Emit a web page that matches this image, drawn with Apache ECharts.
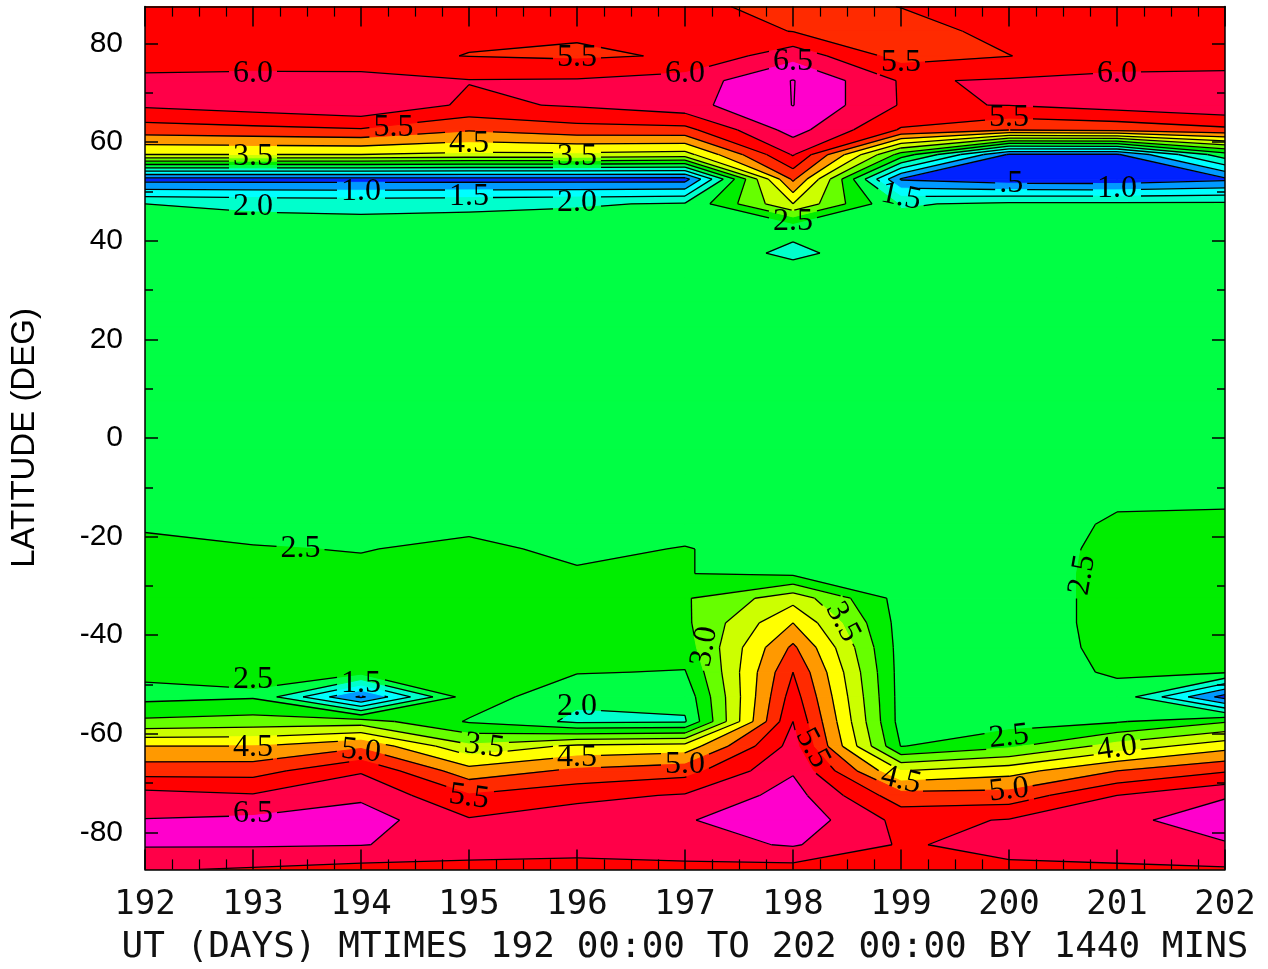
<!DOCTYPE html>
<html>
<head>
<meta charset="utf-8">
<script src="https://cdn.jsdelivr.net/npm/echarts@6/dist/echarts.min.js"></script>
<style>
  html, body { margin: 0; padding: 0; background: #fff; }
  #chart { width: 1268px; height: 969px; }
</style>
</head>
<body>
<div id="chart"></div>
<script>
// grid of the field: one column per day, one row per latitude (north to south)
const days = [192, 193, 194, 195, 196, 197, 198, 199, 200, 201, 202];
const lats = [87.5, 82.5, 77.5, 72.5, 67.5, 62.5, 57.5, 52.5, 47.5, 42.5,
  37.5, 32.5, 27.5, 22.5, 17.5, 12.5, 7.5, 2.5, -2.5, -7.5,
  -12.5, -17.5, -22.5, -27.5, -32.5, -37.5, -42.5, -47.5, -52.5, -57.5,
  -62.5, -67.5, -72.5, -77.5, -82.5, -87.5];

const valuesNorth = [
  [5.7, 5.7, 5.7, 5.7, 5.7, 5.65, 5.3, 5.51, 5.7, 5.7, 5.7],
  [5.75, 5.75, 5.7, 5.56, 5.57, 5.7, 5.49, 5.3, 5.65, 5.75, 5.75],
  [5.8, 5.8, 5.6, 5.49, 5.42, 5.55, 6.32, 5.3, 5.49, 5.8, 5.85],
  [6.09, 6.12, 6.23, 6.02, 6.04, 6.21, 7.02, 5.95, 6.05, 6.1, 6.1],
  [6.08, 6.25, 6.45, 5.9, 6.05, 6.32, 7.01, 5.96, 6.01, 6.22, 6.42],
  [5.25, 5.35, 5.45, 5.05, 5.3, 5.34, 6.7, 5.45, 5.03, 5.13, 5.38],
  [4.0, 4.0, 4.0, 3.9, 3.9, 3.8, 6.05, 2.8, 0.45, 0.45, 2.3],
  [0.3, 0.3, 0.3, 0.3, 0.3, 0.3, 5.1, 0.45, 0.18, 0.15, 0.4],
  [2.0, 1.9, 1.85, 1.9, 1.95, 2.05, 4.0, 1.95, 2.1, 2.1, 2.1],
  [2.2, 2.2, 2.2, 2.2, 2.25, 2.2, 2.12, 2.2, 2.2, 2.2, 2.2]
];
const valuesMid = [
  [2.2, 2.2, 2.25, 2.25, 2.25, 2.3, 1.9, 2.3, 2.25, 2.2, 2.2],
  [2.25, 2.25, 2.25, 2.25, 2.25, 2.25, 2.26, 2.25, 2.25, 2.25, 2.25],
  [2.25, 2.3, 2.25, 2.2, 2.25, 2.3, 2.3, 2.25, 2.2, 2.25, 2.25],
  [2.25, 2.25, 2.2, 2.2, 2.25, 2.25, 2.3, 2.25, 2.2, 2.2, 2.25],
  [2.2, 2.25, 2.2, 2.2, 2.2, 2.25, 2.25, 2.2, 2.2, 2.2, 2.2],
  [2.2, 2.2, 2.2, 2.2, 2.2, 2.2, 2.2, 2.2, 2.2, 2.2, 2.2],
  [2.2, 2.2, 2.2, 2.2, 2.2, 2.2, 2.2, 2.2, 2.2, 2.2, 2.2],
  [2.2, 2.2, 2.2, 2.2, 2.2, 2.2, 2.2, 2.2, 2.2, 2.2, 2.2],
  [2.25, 2.25, 2.2, 2.2, 2.2, 2.25, 2.25, 2.2, 2.2, 2.25, 2.25],
  [2.25, 2.25, 2.25, 2.3, 2.25, 2.25, 2.25, 2.25, 2.25, 2.3, 2.3]
];
const valuesSouth = [
  [2.3, 2.3, 2.3, 2.35, 2.3, 2.3, 2.3, 2.3, 2.3, 2.45, 2.45],
  [2.45, 2.35, 2.3, 2.4, 2.3, 2.35, 2.3, 2.3, 2.3, 2.55, 2.58],
  [2.6, 2.53, 2.48, 2.6, 2.4, 2.52, 2.3, 2.3, 2.3, 2.6, 2.6],
  [2.7, 2.65, 2.6, 2.65, 2.55, 2.51, 2.4, 2.3, 2.3, 2.62, 2.6],
  [2.7, 2.7, 2.65, 2.7, 2.7, 2.95, 3.8, 2.3, 2.3, 2.62, 2.6],
  [2.7, 2.7, 2.7, 2.75, 2.7, 2.9, 4.5, 2.3, 2.3, 2.62, 2.6],
  [2.7, 2.7, 2.75, 2.75, 2.65, 2.75, 5.1, 2.3, 2.3, 2.6, 2.6],
  [2.6, 2.6, 2.68, 2.7, 2.53, 2.47, 5.5, 2.3, 2.3, 2.55, 2.55],
  [2.35, 2.45, 0.4, 2.8, 2.1, 2.15, 5.75, 2.3, 2.3, 2.35, 0.3],
  [3.1, 3.2, 3.25, 2.45, 1.9, 1.95, 6.0, 2.3, 2.3, 2.45, 2.95],
  [4.5, 4.5, 4.9, 3.6, 4.1, 4.2, 6.2, 2.48, 2.9, 3.7, 4.3],
  [5.28, 5.3, 5.95, 4.7, 5.1, 5.3, 6.45, 4.0, 4.3, 5.0, 5.45],
  [6.2, 6.05, 6.4, 5.55, 5.85, 6.05, 6.7, 5.2, 5.2, 6.0, 6.45],
  [6.52, 6.6, 6.75, 6.05, 6.3, 6.46, 6.85, 5.85, 6.03, 6.35, 6.8],
  [6.55, 6.55, 6.52, 6.3, 6.3, 6.3, 6.55, 5.95, 6.15, 6.3, 6.45],
  [6.05, 5.95, 5.82, 5.82, 5.74, 5.85, 5.8, 5.7, 5.9, 5.9, 5.95]
];
const values = valuesNorth.concat(valuesMid, valuesSouth);

const levels = [0.5, 1.0, 1.5, 2.0, 2.5, 3.0, 3.5, 4.0, 4.5, 5.0, 5.5, 6.0, 6.5, 7.0];
const bandColors = ['#0022ff', '#0099ff', '#00ffff', '#00ffcc', '#00ff44', '#00ee00', '#66ff00',
  '#ccff00', '#ffff00', '#ff9900', '#ff2a00', '#ff0000', '#ff0048', '#ff00cc', '#ff00cc'];

// contour labels
const labelText = ['5.5', '6.0', '6.0', '6.5', '5.5', '6.0', '5.5', '5.5', '4.5', '3.5', '3.5',
  '1.0', '1.5', '2.0', '2.0', '2.5', '1.5', '.5', '1.0',
  '2.5', '2.5', '3.0', '3.5', '5.5', '2.5', '1.5', '2.0', '4.5', '5.0', '3.5',
  '4.5', '5.0', '5.5', '6.5', '4.5', '2.5', '5.0', '4.0'];
const labelDay = [196.0, 193.0, 197.0, 198.0, 199.0, 201.0, 194.3, 200.0, 195.0, 193.0, 196.0,
  194.0, 195.0, 193.0, 196.0, 198.0, 199.0, 200.02, 201.0,
  193.44, 200.68, 197.18, 198.46, 198.18, 193.0, 194.0, 196.0, 193.0, 194.0, 195.14,
  196.0, 197.0, 195.0, 193.0, 199.0, 200.0, 200.0, 201.0];
const labelLat = [77.1, 74.0, 74.0, 76.3, 76.1, 74.0, 62.9, 64.9, 59.8, 57.0, 57.0,
  49.9, 48.9, 46.9, 47.7, 43.8, 48.9, 51.7, 50.5,
  -22.5, -27.8, -42.3, -37.3, -62.9, -49.1, -49.9, -54.4, -62.7, -63.5, -62.5,
  -64.9, -66.3, -72.8, -76.1, -69.4, -60.6, -71.4, -62.9];
const labelRot = [0, 0, 0, 0, 0, 0, 0, 0, 0, 0, 0,
  0, 0, 0, 0, 0, -12, 0, 0,
  0, 80, 80, -62, -62, 0, 0, 0, 0, -6, -8,
  0, 0, -8, 0, -14, 6, 6, 8];

const labelFont = '32px "Liberation Serif"';
const measureCtx = document.createElement('canvas').getContext('2d');
measureCtx.font = labelFont;
function textW(t) { return measureCtx.measureText(t).width; }

function cell(api, i, j) {
  const pts = [
    api.coord([days[i], lats[j]]),
    api.coord([days[i + 1], lats[j]]),
    api.coord([days[i + 1], lats[j + 1]]),
    api.coord([days[i], lats[j + 1]])
  ];
  const vs = [values[j][i], values[j][i + 1], values[j + 1][i + 1], values[j + 1][i]];
  return { pts, vs };
}

function lerpPt(a, b, t) { return [a[0] + t * (b[0] - a[0]), a[1] + t * (b[1] - a[1])]; }

// part of the cell where value >= L
function clipAbove(pts, vs, L) {
  const out = [];
  for (let k = 0; k < 4; k++) {
    const a = pts[k], b = pts[(k + 1) % 4], va = vs[k], vb = vs[(k + 1) % 4];
    const ina = va >= L, inb = vb >= L;
    if (ina) out.push(a);
    if (ina !== inb) out.push(lerpPt(a, b, (L - va) / (vb - va)));
  }
  return out;
}

function isoSegments(pts, vs, L) {
  const cr = [];
  for (let k = 0; k < 4; k++) {
    const a = pts[k], b = pts[(k + 1) % 4], va = vs[k], vb = vs[(k + 1) % 4];
    const ina = va >= L, inb = vb >= L;
    if (ina !== inb) cr.push({ p: lerpPt(a, b, (L - va) / (vb - va)), exit: ina });
  }
  const segs = [];
  for (let m = 0; m < cr.length; m++) {
    if (cr[m].exit) segs.push([cr[m].p, cr[(m + 1) % cr.length].p]);
  }
  return segs;
}

function labelBoxes(api) {
  return labelText.map((t, k) => {
    const c = api.coord([labelDay[k], labelLat[k]]);
    const th = labelRot[k] * Math.PI / 180;
    return { cx: c[0], cy: c[1], hw: textW(t) / 2 + 4, hh: 12, cos: Math.cos(th), sin: Math.sin(th) };
  });
}

// remove the part of segment [a,b] that lies in the label box
function cutBox(a, b, bx) {
  const loc = p => {
    const dx = p[0] - bx.cx, dy = p[1] - bx.cy;
    return [dx * bx.cos - dy * bx.sin, dx * bx.sin + dy * bx.cos];
  };
  const la = loc(a), lb = loc(b);
  const dx = lb[0] - la[0], dy = lb[1] - la[1];
  const p = [-dx, dx, -dy, dy];
  const q = [la[0] + bx.hw, bx.hw - la[0], la[1] + bx.hh, bx.hh - la[1]];
  let t0 = 0, t1 = 1;
  for (let k = 0; k < 4; k++) {
    if (p[k] === 0) {
      if (q[k] < 0) return [[a, b]];
    } else {
      const r = q[k] / p[k];
      if (p[k] < 0) { if (r > t1) return [[a, b]]; if (r > t0) t0 = r; }
      else { if (r < t0) return [[a, b]]; if (r < t1) t1 = r; }
    }
  }
  if (t0 >= t1) return [[a, b]];
  const out = [];
  if (t0 > 0) out.push([a, lerpPt(a, b, t0)]);
  if (t1 < 1) out.push([lerpPt(a, b, t1), b]);
  return out;
}

// fills are painted level by level over all cells, so no seams show
function renderFill(params, api) {
  const i = api.value(2), j = api.value(3), k = api.value(4);
  const { pts, vs } = cell(api, i, j);
  let pg = pts;
  if (k >= 0) {
    if (Math.max(...vs) < levels[k]) return null;
    pg = clipAbove(pts, vs, levels[k]);
    if (pg.length < 3) return null;
  }
  const c = bandColors[k + 1];
  return { type: 'polygon', shape: { points: pg }, style: { fill: c, stroke: c, lineWidth: 1.0 } };
}

function renderLines(params, api) {
  const i = api.value(2), j = api.value(3);
  const { pts, vs } = cell(api, i, j);
  const lo = Math.min(...vs), hi = Math.max(...vs);
  const boxes = labelBoxes(api);
  const children = [];
  levels.forEach(L => {
    if (L > lo && L <= hi) {
      isoSegments(pts, vs, L).forEach(s => {
        let pieces = [s];
        boxes.forEach(bx => {
          const next = [];
          pieces.forEach(pc => cutBox(pc[0], pc[1], bx).forEach(r => next.push(r)));
          pieces = next;
        });
        pieces.forEach(pc => children.push({
          type: 'line',
          shape: { x1: pc[0][0], y1: pc[0][1], x2: pc[1][0], y2: pc[1][1] },
          style: { stroke: '#000', lineWidth: 1.3 }
        }));
      });
    }
  });
  return { type: 'group', children };
}

function renderLabel(params, api) {
  const k = api.value(2);
  const c = api.coord([api.value(0), api.value(1)]);
  return {
    type: 'text',
    x: c[0], y: c[1],
    rotation: labelRot[k] * Math.PI / 180,
    style: { text: labelText[k], font: labelFont, fill: '#000', align: 'center', verticalAlign: 'middle' }
  };
}

const cellData = [];
for (let j = 0; j < lats.length - 1; j++) {
  for (let i = 0; i < days.length - 1; i++) cellData.push([days[i], lats[j], i, j]);
}
const fillData = [];
for (let k = -1; k < levels.length; k++) {
  cellData.forEach(c => fillData.push([c[0], c[1], c[2], c[3], k]));
}
const labelData = labelText.map((t, k) => [labelDay[k], labelLat[k], k]);

const tickLine = { color: '#000', width: 1.5 };
const yMajor = [-80, -60, -40, -20, 0, 20, 40, 60, 80];
const yMinor = [-70, -50, -30, -10, 10, 30, 50, 70];

function yAx(pos, vals, len, withLine) {
  return {
    type: 'value', min: -87.5, max: 87.5, position: pos, z: 10,
    axisLine: { show: withLine, onZero: false, lineStyle: tickLine },
    axisTick: { show: true, inside: true, length: len, customValues: vals, lineStyle: tickLine },
    axisLabel: withLine && pos === 'left'
      ? { show: true, customValues: yMajor, fontFamily: 'Liberation Sans', fontSize: 30, color: '#000', margin: 22 }
      : { show: false },
    splitLine: { show: false }
  };
}

function xAx(pos) {
  return {
    type: 'value', min: 192, max: 202, interval: 1, position: pos, z: 10,
    axisLine: { show: true, onZero: false, lineStyle: tickLine },
    axisTick: { show: true, inside: true, length: 20, lineStyle: tickLine },
    minorTick: { show: true, splitNumber: 4, length: 10, lineStyle: { color: '#000', width: 1.2 } },
    splitLine: { show: false },
    axisLabel: { show: false }
  };
}

const chart = echarts.init(document.getElementById('chart'));
const leftMain = yAx('left', yMajor, 13, true);
leftMain.name = 'LATITUDE (DEG)';
leftMain.nameLocation = 'middle';
leftMain.nameRotate = 90;
leftMain.nameGap = 104;
leftMain.nameTextStyle = { fontFamily: 'Liberation Sans', fontSize: 33, color: '#000' };

const bottomX = xAx('bottom');
bottomX.axisLabel = { show: true, fontFamily: 'DejaVu Sans Mono', fontSize: 34, color: '#111', margin: 19 };
bottomX.name = 'UT (DAYS) MTIMES 192 00:00 TO 202 00:00 BY 1440 MINS';
bottomX.nameLocation = 'middle';
bottomX.nameGap = 60;
bottomX.nameTextStyle = { fontFamily: 'DejaVu Sans Mono', fontSize: 36, color: '#111' };

chart.setOption({
  animation: false,
  backgroundColor: '#fff',
  grid: { left: 145, right: 43, top: 6.6, bottom: 99.6, outerBoundsMode: 'none', containLabel: false },
  xAxis: [bottomX, xAx('top')],
  yAxis: [
    leftMain,
    yAx('left', yMinor, 8, false),
    yAx('right', yMajor, 13, true),
    yAx('right', yMinor, 8, false)
  ],
  series: [{
    type: 'custom', coordinateSystem: 'cartesian2d', xAxisIndex: 0, yAxisIndex: 0,
    encode: { x: 0, y: 1 }, data: fillData, renderItem: renderFill, silent: true, clip: true, z: 1,
    progressive: 0
  }, {
    type: 'custom', coordinateSystem: 'cartesian2d', xAxisIndex: 0, yAxisIndex: 0,
    encode: { x: 0, y: 1 }, data: cellData, renderItem: renderLines, silent: true, clip: true, z: 2
  }, {
    type: 'custom', coordinateSystem: 'cartesian2d', xAxisIndex: 0, yAxisIndex: 0,
    encode: { x: 0, y: 1 }, data: labelData, renderItem: renderLabel, silent: true, clip: true, z: 3
  }]
});
</script>
</body>
</html>
